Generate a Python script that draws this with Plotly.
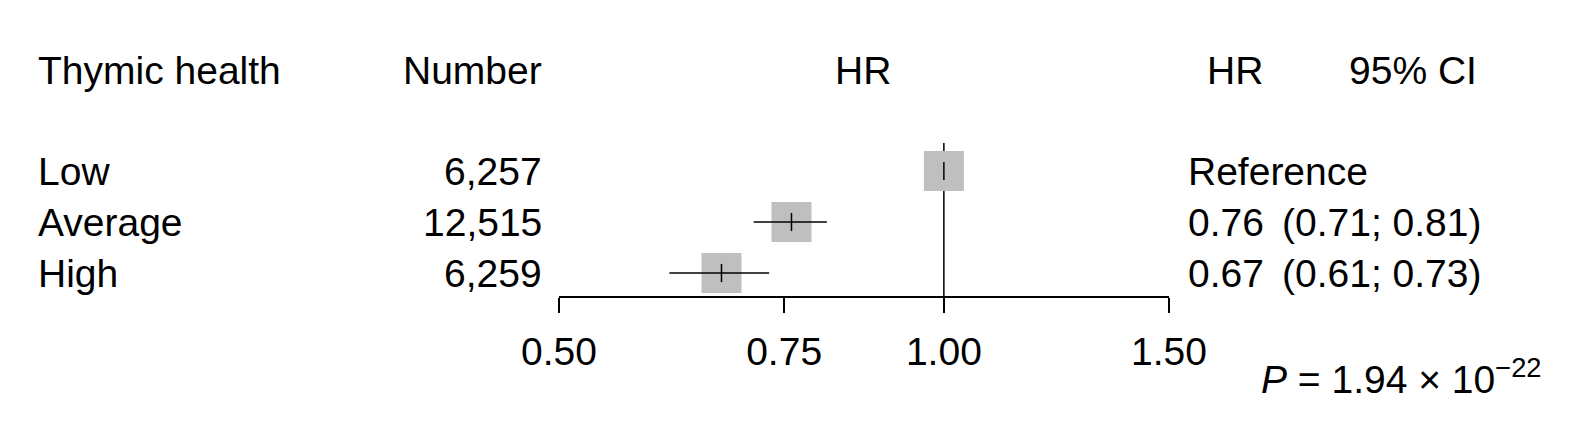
import math
import plotly.graph_objects as go

# ---- data ----
groups = ["Low", "Average", "High"]
numbers = ["6,257", "12,515", "6,259"]
hr = [1.00, 0.76, 0.67]
ci_low = [None, 0.71, 0.61]
ci_high = [None, 0.81, 0.73]
hr_text = ["Reference", "0.76", "0.67"]
ci_text = ["", "(0.71; 0.81)", "(0.61; 0.73)"]
tick_vals = [0.50, 0.75, 1.00, 1.50]
tick_labels = ["0.50", "0.75", "1.00", "1.50"]
headers = ["Thymic health", "Number", "HR", "HR", "95% CI"]
p_text = "<i>P</i> = 1.94 × 10<sup>−22</sup>"

W, H = 1572, 428
OFF = 8  # page body margin
FONT = "Liberation Sans, Arial, Helvetica, sans-serif"
FS = 39
rows = [1, 2, 3]
row_px = 51.0
row0_px = 171.0 - OFF


def fy(f):
    # figure pixel -> row coordinate
    return 1 + (f - row0_px) / row_px


def py(p):
    # page pixel -> row coordinate
    return fy(p - OFF)


def px(x):
    # page pixel -> paper fraction
    return (x - OFF) / W


fig = go.Figure()

# reference line at HR = 1
fig.add_trace(go.Scatter(x=[1.0, 1.0], y=[py(143), py(312)], mode="lines",
                         line=dict(color="black", width=1.5), hoverinfo="skip",
                         showlegend=False))

# boxes
fig.add_trace(go.Scatter(x=hr, y=rows, mode="markers",
                         marker=dict(symbol="square", size=40, color="#BFBFBF",
                                     line=dict(width=0)),
                         showlegend=False))

# CI lines
cx, cy = [], []
for lo, hi, r in zip(ci_low, ci_high, rows):
    if lo is None:
        continue
    cx += [lo, hi, None]
    cy += [r, r, None]
fig.add_trace(go.Scatter(x=cx, y=cy, mode="lines",
                         line=dict(color="black", width=1.5), showlegend=False))

# estimate ticks
fig.add_trace(go.Scatter(x=hr, y=rows, mode="markers",
                         marker=dict(symbol="line-ns-open", size=13, color="black",
                                     line=dict(color="black", width=1.5)),
                         showlegend=False))

ann = []
hy = py(70)
ann.append(dict(x=px(36), y=hy, text=headers[0], xanchor="left"))
ann.append(dict(x=px(544), y=hy, text=headers[1], xanchor="right"))
ann.append(dict(x=px(863), y=hy, text=headers[2], xanchor="center"))
ann.append(dict(x=px(1235), y=hy, text=headers[3], xanchor="center"))
ann.append(dict(x=px(1413), y=hy, text=headers[4], xanchor="center"))
for g, n, h, c, r in zip(groups, numbers, hr_text, ci_text, rows):
    ann.append(dict(x=px(36), y=r, text=g, xanchor="left"))
    ann.append(dict(x=px(544), y=r, text=n, xanchor="right"))
    ann.append(dict(x=px(1186), y=r, text=h, xanchor="left"))
    if c:
        ann.append(dict(x=px(1483), y=r, text=c, xanchor="right"))
ann.append(dict(x=px(1544), y=py(376), text=p_text, xanchor="right"))

for a in ann:
    a.update(xref="paper", yref="y", showarrow=False, yanchor="middle",
             font=dict(family=FONT, size=FS, color="black"))

fig.update_layout(
    width=W, height=H, margin=dict(l=0, r=0, t=0, b=0, pad=0, autoexpand=False),
    paper_bgcolor="white", plot_bgcolor="white",
    annotations=ann,
    xaxis=dict(type="log", range=[math.log10(0.5), math.log10(1.5)],
               domain=[px(559), px(1169)], anchor="free",
               position=1 - (297 - OFF) / H,
               showline=True, linecolor="black", linewidth=1.5,
               ticks="outside", ticklen=15, tickwidth=1.5, tickcolor="black",
               tickvals=tick_vals, ticktext=tick_labels,
               tickfont=dict(family=FONT, size=FS, color="black"),
               ticklabelstandoff=5, automargin=False,
               showgrid=False, zeroline=False),
    yaxis=dict(range=[fy(H), fy(0)], domain=[0, 1], visible=False,
               automargin=False, showgrid=False, zeroline=False),
    showlegend=False,
)

fig.write_html("out.html")
